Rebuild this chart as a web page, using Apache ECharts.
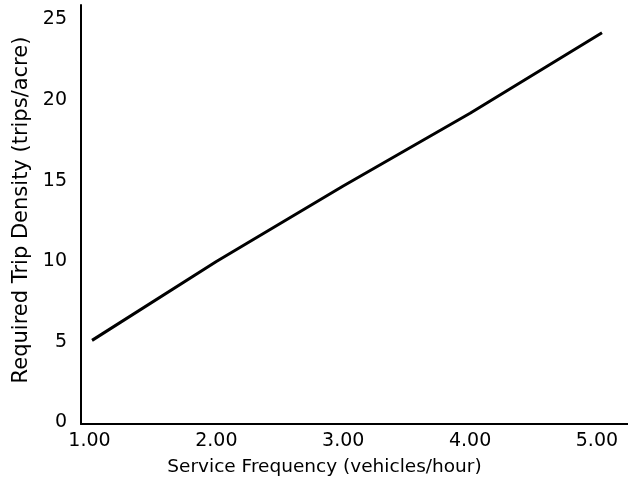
<!DOCTYPE html>
<html>
<head>
<meta charset="utf-8">
<script src="https://cdn.jsdelivr.net/npm/echarts@6/dist/echarts.min.js"></script>
<style>
html,body{margin:0;padding:0;background:#fff;}
#c{width:628px;height:482px;}
</style>
</head>
<body>
<div id="c"></div>
<script>
var frequency = [1.02, 2.00, 3.00, 4.00, 5.04];
var tripDensity = [5.09, 9.98, 14.67, 19.18, 24.18];
var xTicks = [1, 2, 3, 4, 5];
var yTicks = [0, 5, 10, 15, 20, 25];
var xTitle = 'Service Frequency (vehicles/hour)';
var yTitle = 'Required Trip Density (trips/acre)';

var chart = echarts.init(document.getElementById('c'));
var font = 'DejaVu Sans';
chart.setOption({
  animation: false,
  backgroundColor: '#fff',
  grid: {left: 81, right: 0, top: 5, bottom: 58, containLabel: false},
  xAxis: {
    type: 'value',
    min: 0.933, max: 5.245,
    splitLine: {show: false},
    axisLine: {show: true, onZero: false, lineStyle: {color: '#000', width: 2}},
    axisTick: {show: false},
    axisLabel: {
      customValues: xTicks,
      formatter: function (v) { return v.toFixed(2); },
      color: '#000', fontFamily: font, fontSize: 19, margin: 8
    },
    name: xTitle,
    nameLocation: 'middle',
    nameGap: 34,
    nameTextStyle: {color: '#000', fontFamily: font, fontSize: 18.5, padding: [0, 60, 0, 0]}
  },
  yAxis: {
    type: 'value',
    min: -0.1, max: 25.9,
    splitLine: {show: false},
    axisLine: {show: true, onZero: false, lineStyle: {color: '#000', width: 2}},
    axisTick: {show: false},
    axisLabel: {
      customValues: yTicks,
      formatter: function (v) { return String(v); },
      color: '#000', fontFamily: font, fontSize: 19, margin: 14
    },
    name: yTitle,
    nameLocation: 'middle',
    nameGap: 48,
    nameTextStyle: {color: '#000', fontFamily: font, fontSize: 21, padding: [0, 0, 0, 9]}
  },
  series: [{
    type: 'line',
    data: frequency.map(function (f, i) { return [f, tripDensity[i]]; }),
    showSymbol: false,
    symbol: 'none',
    lineStyle: {color: '#000', width: 3},
    silent: true
  }]
});
</script>
</body>
</html>
